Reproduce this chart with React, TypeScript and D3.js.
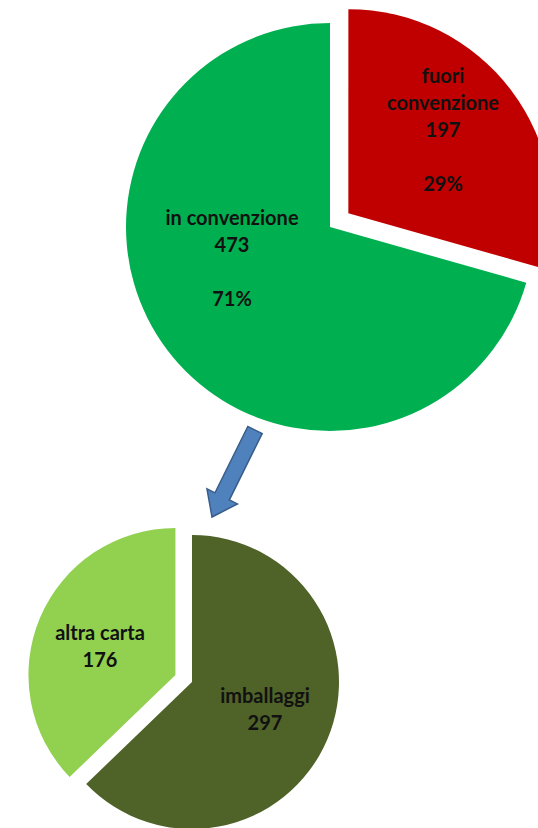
import React from "react";
import * as d3 from "d3";

const topCategories = ["fuori convenzione", "in convenzione"];
const topValues = [197, 473];
const topColors = ["#C00000", "#00B050"];
const topLabels = [["fuori", "convenzione", "197", "", "29%"], ["in convenzione", "473", "", "71%"]];

const bottomCategories = ["imballaggi", "altra carta"];
const bottomValues = [297, 176];
const bottomColors = ["#4F6228", "#92D050"];
const bottomLabels = [["imballaggi", "297"], ["altra carta", "176"]];

const W = 538;
const H = 828;
const FONT = "Lato, 'Open Sans', sans-serif";
const LH = 27;

type PieSpec = {
  cx: number;
  cy: number;
  r: number;
  values: number[];
  colors: string[];
  labels: string[][];
  explode: number[];
  labelPos: [number, number][];
};

const specs: PieSpec[] = [
  {
    cx: 330, cy: 227, r: 204,
    values: topValues, colors: topColors, labels: topLabels,
    explode: [23, 0],
    labelPos: [[443, 83], [232, 225]],
  },
  {
    cx: 192, cy: 682, r: 147,
    values: bottomValues, colors: bottomColors, labels: bottomLabels,
    explode: [0, 18],
    labelPos: [[265, 703], [100, 640]],
  },
];

function Pie({ s, names }: { s: PieSpec; names: string[] }) {
  const pie = d3.pie<number>().sort(null).value((d) => d);
  const arcs = pie(s.values);
  const arc = d3.arc<d3.PieArcDatum<number>>().innerRadius(0).outerRadius(s.r);
  return (
    <g>
      {arcs.map((a, i) => {
        const mid = (a.startAngle + a.endAngle) / 2;
        const dx = Math.sin(mid) * s.explode[i];
        const dy = -Math.cos(mid) * s.explode[i];
        return (
          <path
            key={names[i]}
            d={arc(a) || ""}
            fill={s.colors[i]}
            transform={`translate(${s.cx + dx},${s.cy + dy})`}
          />
        );
      })}
      {arcs.map((a, i) => (
        <text
          key={"t" + i}
          x={s.labelPos[i][0]}
          y={s.labelPos[i][1]}
          textAnchor="middle"
          fontFamily={FONT}
          fontWeight={700}
          fontSize={20}
          fill="#111"
        >
          {s.labels[i].map((ln, j) => (
            <tspan key={j} x={s.labelPos[i][0]} y={s.labelPos[i][1] + j * LH}>
              {ln}
            </tspan>
          ))}
        </text>
      ))}
    </g>
  );
}

export default function App() {
  const tail: [number, number] = [255, 430];
  const tip: [number, number] = [212, 517];
  const len = Math.hypot(tip[0] - tail[0], tip[1] - tail[1]);
  const ang = (Math.atan2(tip[1] - tail[1], tip[0] - tail[0]) * 180) / Math.PI;
  const sw = 8;
  const hw = 17;
  const hl = 23;
  const arrowPts = [
    [0, -sw], [len - hl, -sw], [len - hl, -hw], [len, 0], [len - hl, hw], [len - hl, sw], [0, sw],
  ].map((p) => p.join(",")).join(" ");
  return (
    <svg width={W} height={H} style={{ position: "absolute", left: 0, top: 0, display: "block" }}>
      <rect width={W} height={H} fill="#fff" />
      <Pie s={specs[0]} names={topCategories} />
      <Pie s={specs[1]} names={bottomCategories} />
      <polygon
        points={arrowPts}
        transform={`translate(${tail[0]},${tail[1]}) rotate(${ang})`}
        fill="#4F81BD"
        stroke="#385D8A"
        strokeWidth={1.5}
      />
    </svg>
  );
}
